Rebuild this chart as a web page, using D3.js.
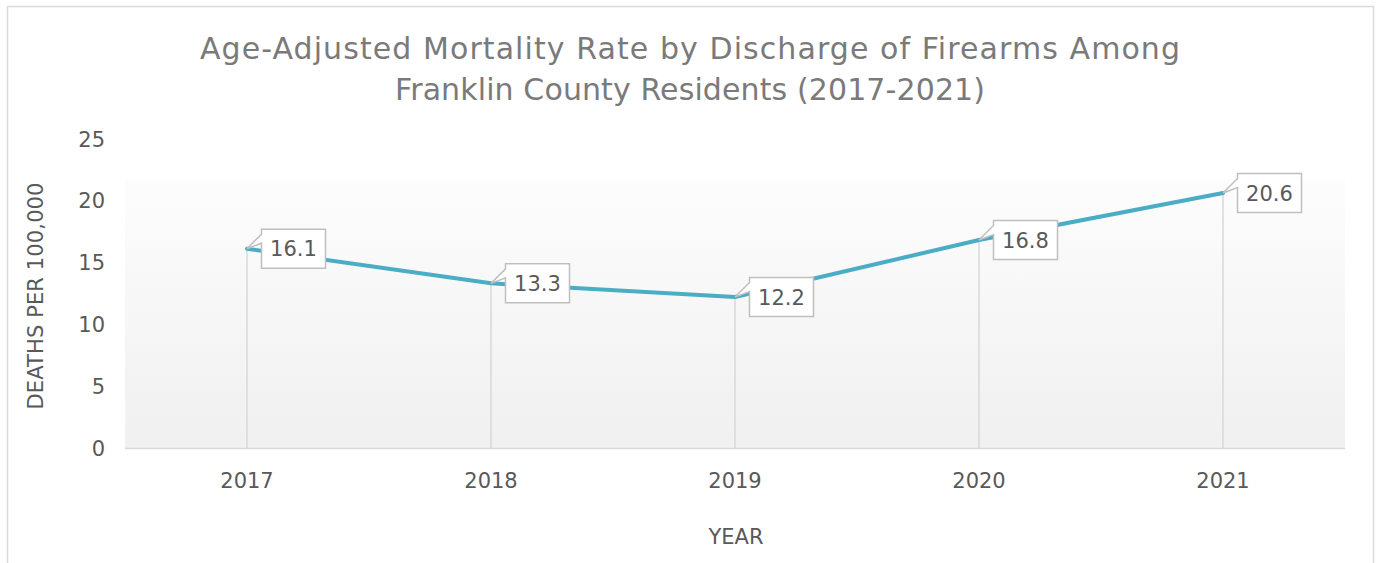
<!DOCTYPE html>
<html>
<head>
<meta charset="utf-8">
<script src="https://cdn.jsdelivr.net/npm/d3@7"></script>
<style>
  html, body { margin: 0; padding: 0; background: #fff; }
  svg { display: block; font-family: "DejaVu Sans", sans-serif; }
</style>
</head>
<body>
<svg id="chart" width="1378" height="563"></svg>
<script>
const titleLines = ["Age-Adjusted Mortality Rate by Discharge of Firearms Among", "Franklin County Residents (2017-2021)"];
const titleWidths = [980, 590];
const years = ["2017", "2018", "2019", "2020", "2021"];
const rates = [16.1, 13.3, 12.2, 16.8, 20.6];
const yTicks = [0, 5, 10, 15, 20, 25];
const yLabel = "DEATHS PER 100,000";
const xLabel = "YEAR";

const svg = d3.select("#chart");
const plot = { left: 125, right: 1345, top: 138.5, bottom: 448, fillTop: 179 };

// outer border
svg.append("rect").attr("x", 7.5).attr("y", 6.5).attr("width", 1366).attr("height", 600)
  .attr("fill", "#fff").attr("stroke", "#d9d9d9").attr("stroke-width", 1.5);

const defs = svg.append("defs");
const grad = defs.append("linearGradient").attr("id", "pg").attr("x1", 0).attr("y1", 0).attr("x2", 0).attr("y2", 1);
grad.append("stop").attr("offset", "0%").attr("stop-color", "#fdfdfd");
grad.append("stop").attr("offset", "100%").attr("stop-color", "#f0f0f0");

const x = d3.scaleBand().domain(years).range([plot.left, plot.right]);
const y = d3.scaleLinear().domain([0, 25]).range([plot.bottom, plot.top]);

svg.append("rect").attr("x", plot.left).attr("y", plot.fillTop)
  .attr("width", plot.right - plot.left).attr("height", plot.bottom - plot.fillTop)
  .attr("fill", "url(#pg)");

// title
svg.append("g").selectAll("text").data(titleLines).join("text")
  .attr("x", 690).attr("y", (d, i) => 59 + i * 41)
  .attr("text-anchor", "middle").attr("font-size", 30).attr("fill", "#7a7a7a")
  .attr("textLength", (d, i) => titleWidths[i]).attr("lengthAdjust", "spacing")
  .text(d => d);

// y axis
const yAxis = d3.axisLeft(y).tickValues(yTicks).tickSize(0).tickPadding(0);
const gy = svg.append("g").attr("transform", `translate(${plot.left - 20},0)`).call(yAxis);
gy.select(".domain").remove();
gy.selectAll("text").attr("font-size", 21).attr("fill", "#595959")
  .attr("font-family", "DejaVu Sans, sans-serif").attr("dy", "0.36em");

// x axis
const xAxis = d3.axisBottom(x).tickSize(0).tickPadding(0);
const gx = svg.append("g").attr("transform", `translate(0,${plot.bottom})`).call(xAxis);
gx.select(".domain").remove();
gx.selectAll("text").attr("font-size", 21).attr("fill", "#595959")
  .attr("font-family", "DejaVu Sans, sans-serif").attr("dy", "0").attr("y", 40);

// baseline
svg.append("line").attr("x1", plot.left).attr("x2", plot.right)
  .attr("y1", plot.bottom + 0.5).attr("y2", plot.bottom + 0.5)
  .attr("stroke", "#d9d9d9").attr("stroke-width", 1.5);

// axis titles
svg.append("text").attr("transform", `translate(43,296) rotate(-90)`)
  .attr("text-anchor", "middle").attr("font-size", 21).attr("fill", "#595959")
  .attr("textLength", 227).attr("lengthAdjust", "spacing").text(yLabel);
svg.append("text").attr("x", 736).attr("y", 544)
  .attr("text-anchor", "middle").attr("font-size", 21).attr("fill", "#595959").text(xLabel);

const pts = years.map((yr, i) => ({ yr, v: rates[i], px: x(yr) + x.bandwidth() / 2, py: y(rates[i]) }));

// drop lines
svg.append("g").selectAll("line").data(pts).join("line")
  .attr("x1", d => d.px).attr("x2", d => d.px)
  .attr("y1", d => d.py).attr("y2", plot.bottom)
  .attr("stroke", "#d9d9d9").attr("stroke-width", 1.5);

// line
svg.append("path").datum(pts)
  .attr("d", d3.line().x(d => d.px).y(d => d.py))
  .attr("fill", "none").attr("stroke", "#4bacc6").attr("stroke-width", 4)
  .attr("stroke-linejoin", "round").attr("stroke-linecap", "round");

// callouts
const bw = 64, bh = 39, dx = 14.5, dy = -19.5;
const cg = svg.append("g").selectAll("g").data(pts).join("g");
cg.append("path")
  .attr("d", d => {
    const l = d.px + dx, t = d.py + dy, r = l + bw, b = t + bh;
    return `M${l},${t} L${r},${t} L${r},${b} L${l},${b} L${l},${t + 14} L${d.px},${d.py} L${l},${t + 5} Z`;
  })
  .attr("fill", "#fff").attr("stroke", "#bfbfbf").attr("stroke-width", 1.5);
cg.append("text")
  .attr("x", d => d.px + dx + bw / 2).attr("y", d => d.py + dy + bh / 2)
  .attr("dy", "0.36em").attr("text-anchor", "middle")
  .attr("font-size", 21).attr("fill", "#595959")
  .text(d => d.v.toFixed(1));
</script>
</body>
</html>
